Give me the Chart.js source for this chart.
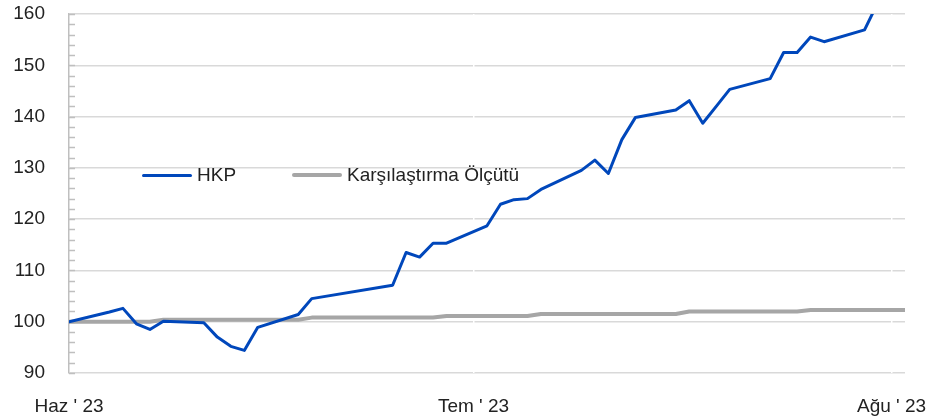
<!DOCTYPE html>
<html lang="tr">
<head>
<meta charset="utf-8">
<title>HKP - Karşılaştırma Ölçütü</title>
<script src="https://cdn.jsdelivr.net/npm/chart.js@4.4.0/dist/chart.umd.min.js"></script>
<style>
    html, body { margin: 0; padding: 0; background: #fff; }
    .wrap { position: relative; width: 933px; height: 419px; }
    #legend { position: absolute; left: 0; top: 0; font-family: "Liberation Sans", Arial, sans-serif; font-size: 19px; color: #222; }
    .leg-item { position: absolute; display: flex; align-items: center; white-space: nowrap; height: 22px; }
    .leg-line { display: inline-block; width: 50px; margin-right: 5px; border-radius: 2px; }
</style>
</head>
<body>
<div class="wrap">
    <canvas id="hkpChart" width="933" height="419"></canvas>
    <div id="legend"></div>
</div>
<script>
/* ======= Veriler ======= */
const seriesNames = ["HKP", "Karşılaştırma Ölçütü"];

// iş günleri, ilk tarihten itibaren gün sayısı (9 Haz = 0)
const days = [0, 3, 4, 5, 6, 7, 10, 11, 12, 13, 14, 17, 18, 24, 25, 26, 27, 28,
    31, 32, 33, 34, 35, 38, 39, 40, 41, 42, 45, 46, 47, 48, 49, 52, 53, 54, 55, 56,
    59, 60, 61, 62];

const hkpValues = [100.0, 101.9, 102.6, 99.6, 98.5, 100.1, 99.8, 97.0, 95.2, 94.4, 98.9,
    101.4, 104.5, 107.1, 113.5, 112.6, 115.3, 115.3, 118.7, 122.9, 123.8, 124.0, 125.8,
    129.5, 131.5, 128.9, 135.5, 139.8, 141.3, 143.1, 138.7, 142.0, 145.3, 147.4, 152.5,
    152.5, 155.5, 154.6, 156.9, 162.3, 163.5, 164.2];

const benchValues = [100.0, 100.0, 100.0, 100.0, 100.0, 100.4, 100.4, 100.4, 100.4, 100.4, 100.4,
    100.4, 100.8, 100.8, 100.8, 100.8, 100.8, 101.1, 101.1, 101.1, 101.1, 101.1, 101.5,
    101.5, 101.5, 101.5, 101.5, 101.5, 101.5, 102.0, 102.0, 102.0, 102.0, 102.0, 102.0,
    102.0, 102.3, 102.3, 102.3, 102.3, 102.3, 102.3];

const yTicks = [90, 100, 110, 120, 130, 140, 150, 160];
const xTickDays = [0, 30, 61];
const xTickLabels = ["Haz ' 23", "Tem ' 23", "Ağu ' 23"];

const colors = ["#0047BB", "#A6A6A6"];
const widths = [3, 4];

/* ======= Y ekseninde küçük çentikler ======= */
const minorTicks = {
    id: "minorTicks",
    beforeDatasetsDraw(chart) {
        const y = chart.scales.y;
        const ctx = chart.ctx;
        const left = chart.chartArea.left;
        ctx.save();
        ctx.strokeStyle = "#BFBFBF";
        ctx.lineWidth = 1.5;
        for (let v = y.min; v <= y.max; v += 2) {
            const py = Math.round(y.getPixelForValue(v)) + 0.5;
            ctx.beginPath();
            ctx.moveTo(left, py);
            ctx.lineTo(left + 6, py);
            ctx.stroke();
        }
        ctx.restore();
    }
};

Chart.defaults.font.family = '"Liberation Sans", Arial, sans-serif';
Chart.defaults.font.size = 19;
Chart.defaults.color = "#222";

const toPoints = vals => days.map((d, i) => ({ x: d, y: vals[i] }));

const chart = new Chart(document.getElementById("hkpChart"), {
    type: "line",
    data: {
        datasets: [hkpValues, benchValues].map((vals, i) => ({
            label: seriesNames[i],
            data: toPoints(vals),
            borderColor: colors[i],
            backgroundColor: colors[i],
            borderWidth: widths[i],
            borderJoinStyle: "round",
            borderCapStyle: "round",
            pointRadius: 0,
            tension: 0,
            fill: false
        }))
    },
    options: {
        responsive: false,
        animation: false,
        layout: { padding: { top: 14, right: 28, left: 0, bottom: 0 } },
        plugins: {
            legend: { display: false },
            tooltip: { enabled: false }
        },
        scales: {
            x: {
                type: "linear",
                min: 0,
                max: 62,
                afterBuildTicks: s => { s.ticks = xTickDays.map(v => ({ value: v })); },
                afterFit: s => {
                    s.height = 46;
                    s.paddingLeft = 0;
                    s.paddingRight = 0;
                },
                ticks: {
                    autoSkip: false,
                    maxRotation: 0,
                    padding: 22,
                    callback: (v, i) => xTickLabels[i]
                },
                grid: {
                    z: -1,
                    drawTicks: false,
                    lineWidth: 1.5,
                    color: c => c.index === 0 ? "rgba(0,0,0,0)" : "#ffffff"
                },
                border: { display: false }
            },
            y: {
                min: 90,
                max: 160,
                afterBuildTicks: s => { s.ticks = yTicks.map(v => ({ value: v })); },
                afterFit: s => {
                    s.width = 69;
                    s.paddingTop = 0;
                    s.paddingBottom = 0;
                },
                ticks: { padding: 24 },
                grid: { z: -2, drawTicks: false, color: "#D9D9D9", lineWidth: 1.5 },
                border: { color: "#BFBFBF", width: 1.5 }
            }
        }
    },
    plugins: [minorTicks]
});

/* ======= Lejant ======= */
const legendBox = document.getElementById("legend");
chart.data.datasets.forEach((ds, i) => {
    const item = document.createElement("div");
    item.className = "leg-item";
    item.style.left = (142 + i * 150) + "px";
    item.style.top = "164px";
    const line = document.createElement("span");
    line.className = "leg-line";
    line.style.height = ds.borderWidth + "px";
    line.style.background = ds.borderColor;
    const txt = document.createElement("span");
    txt.textContent = ds.label;
    item.appendChild(line);
    item.appendChild(txt);
    legendBox.appendChild(item);
});
</script>
</body>
</html>
